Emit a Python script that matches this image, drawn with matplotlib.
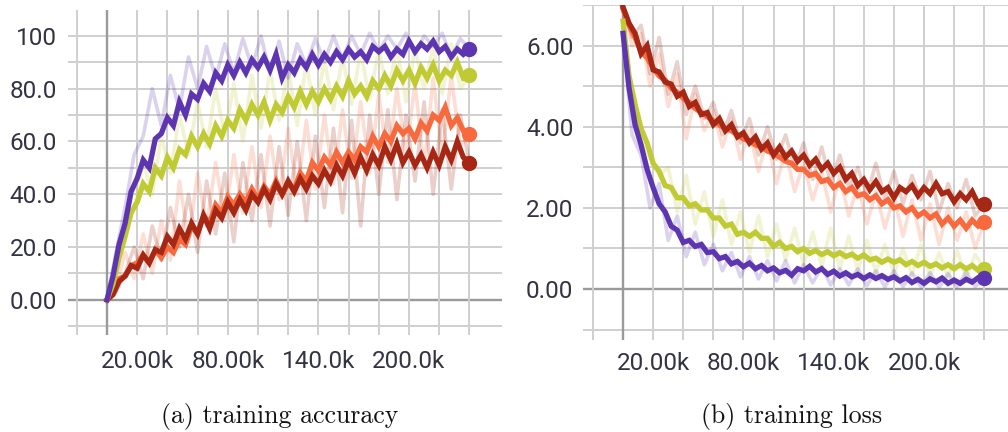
import matplotlib
matplotlib.use("Agg")
import matplotlib.pyplot as plt
import numpy as np

# ---------------- data (steps in thousands) ----------------
steps = list(range(0, 241, 4))        # smoothed curves
raw_steps = list(range(0, 241, 6))    # faint raw curves

acc_purple = [0, 9, 21, 29, 41, 46, 53, 50, 61, 63, 69, 66, 75, 70, 78, 76, 82, 79, 86, 83, 89, 85, 90, 86, 91,
              88, 92, 87, 93, 84, 89, 86, 91, 88, 93, 89, 93, 90, 94, 91, 95, 92, 94, 91, 96, 94, 96, 92, 95, 93,
              98, 94, 97, 95, 98, 94, 96, 92, 95, 93, 95]
acc_lime = [0, 6, 16, 24, 33, 37, 44, 41, 50, 47, 54, 50, 57, 55, 62, 58, 63, 59, 66, 62, 68, 65, 72, 68, 74,
            70, 75, 68, 74, 71, 77, 73, 79, 74, 79, 75, 80, 76, 81, 77, 83, 78, 81, 77, 83, 80, 85, 81, 87, 83,
            87, 82, 88, 84, 89, 83, 87, 85, 90, 84, 85]
acc_orange = [0, 3, 8, 9, 13, 14, 17, 14, 19, 16, 20, 18, 23, 21, 28, 25, 32, 29, 36, 33, 39, 36, 40, 37, 42,
              38, 43, 40, 45, 40, 44, 42, 48, 45, 52, 49, 54, 51, 56, 52, 56, 53, 58, 56, 62, 58, 63, 60, 66, 63,
              65, 61, 67, 64, 70, 68, 73, 66, 69, 64, 63]
acc_red = [0, 2, 7, 9, 13, 12, 17, 14, 19, 18, 24, 21, 27, 23, 29, 25, 32, 27, 34, 31, 37, 33, 38, 34, 40,
           37, 42, 38, 44, 40, 45, 41, 46, 42, 47, 44, 49, 45, 51, 47, 53, 48, 54, 49, 55, 51, 58, 53, 59, 52,
           56, 51, 55, 50, 56, 51, 58, 53, 60, 54, 52]

acc_purple_raw = [0, 18, 35, 55, 62, 80, 66, 85, 72, 92, 80, 96, 84, 97, 86, 99, 88, 100, 86, 98, 84, 97, 89,
                  99, 90, 100, 91, 100, 93, 101, 94, 100, 95, 101, 93, 100, 96, 101, 92, 99, 95]
acc_lime_raw = [0, 12, 30, 35, 52, 40, 62, 48, 70, 55, 75, 58, 80, 62, 82, 60, 85, 65, 87, 68, 88, 66, 90, 70,
                91, 72, 92, 74, 94, 76, 95, 78, 96, 75, 95, 80, 96, 78, 97, 80, 85]
acc_orange_raw = [0, 5, 18, 8, 25, 10, 30, 15, 45, 22, 48, 28, 52, 30, 55, 33, 58, 35, 62, 38, 65, 40, 68, 42,
                  70, 44, 72, 46, 75, 48, 78, 52, 80, 55, 82, 50, 84, 55, 85, 58, 63]
acc_red_raw = [0, 3, 10, 20, 8, 28, 15, 35, 20, 40, 18, 45, 25, 48, 22, 52, 30, 55, 28, 58, 32, 60, 30, 62, 35,
               65, 33, 68, 28, 70, 40, 72, 38, 70, 45, 75, 40, 72, 42, 70, 52]

loss_red = [6.95, 6.55, 6.3, 5.8, 6.0, 5.4, 5.35, 5.1, 5.05, 4.75, 4.85, 4.5, 4.6, 4.3, 4.35, 4.05, 4.2, 3.9,
            4.05, 3.75, 3.85, 3.6, 3.75, 3.45, 3.6, 3.3, 3.5, 3.25, 3.4, 3.15, 3.3, 3.05, 3.2, 2.95, 3.1, 2.85,
            3.0, 2.7, 2.85, 2.55, 2.7, 2.45, 2.65, 2.4, 2.5, 2.25, 2.5, 2.4, 2.55, 2.3, 2.5, 2.35, 2.6, 2.35,
            2.4, 2.15, 2.35, 2.2, 2.4, 2.1, 2.1]
loss_orange = [6.9, 6.5, 6.2, 5.85, 5.7, 5.45, 5.25, 5.15, 4.95, 4.85, 4.7, 4.6, 4.45, 4.35, 4.25, 4.15, 4.05,
               3.95, 3.9, 3.8, 3.7, 3.65, 3.55, 3.5, 3.4, 3.35, 3.25, 3.15, 3.1, 2.95, 2.95, 2.8, 2.85, 2.65,
               2.7, 2.5, 2.6, 2.4, 2.5, 2.3, 2.35, 2.2, 2.3, 2.1, 2.2, 2.0, 2.05, 1.9, 2.0, 1.8, 1.9, 1.75, 1.85,
               1.6, 1.75, 1.55, 1.7, 1.5, 1.7, 1.55, 1.65]
loss_lime = [6.6, 5.25, 4.55, 3.95, 3.6, 3.1, 2.9, 2.55, 2.5, 2.25, 2.25, 2.05, 2.1, 1.95, 1.95, 1.75, 1.75,
             1.55, 1.6, 1.35, 1.4, 1.3, 1.4, 1.25, 1.25, 1.05, 1.15, 1.0, 1.05, 0.92, 1.0, 0.88, 0.95, 0.85,
             0.92, 0.82, 0.9, 0.8, 0.86, 0.76, 0.84, 0.72, 0.76, 0.66, 0.74, 0.66, 0.72, 0.6, 0.68, 0.58, 0.66,
             0.56, 0.62, 0.52, 0.6, 0.5, 0.6, 0.5, 0.58, 0.46, 0.5]
loss_purple = [6.3, 4.95, 4.05, 3.55, 2.95, 2.5, 2.1, 1.9, 1.55, 1.45, 1.15, 1.2, 1.05, 1.1, 0.9, 0.92, 0.75,
               0.8, 0.62, 0.68, 0.55, 0.64, 0.5, 0.58, 0.45, 0.52, 0.4, 0.46, 0.34, 0.5, 0.45, 0.56, 0.42, 0.5,
               0.36, 0.44, 0.32, 0.4, 0.3, 0.36, 0.26, 0.35, 0.26, 0.33, 0.24, 0.3, 0.2, 0.28, 0.16, 0.24, 0.14,
               0.25, 0.18, 0.27, 0.14, 0.22, 0.14, 0.24, 0.17, 0.28, 0.27]

loss_red_raw = [7.0, 6.2, 6.5, 5.3, 6.2, 4.8, 5.6, 4.3, 5.0, 4.2, 4.6, 3.8, 4.4, 3.6, 4.2, 3.3, 4.0, 3.2, 3.8,
                3.0, 3.6, 2.7, 3.5, 2.6, 3.3, 2.5, 3.0, 2.3, 3.1, 2.2, 2.9, 2.1, 2.8, 2.2, 2.9, 1.9, 2.6, 2.0,
                2.7, 1.8, 2.1]
loss_orange_raw = [6.9, 6.0, 6.3, 5.0, 5.8, 4.5, 5.3, 3.7, 4.8, 3.9, 4.4, 3.5, 4.2, 3.2, 3.9, 2.9, 3.7, 2.6,
                   3.4, 2.4, 3.1, 2.2, 2.9, 1.9, 2.8, 1.8, 2.6, 1.6, 2.4, 1.5, 2.3, 1.3, 2.2, 1.2, 2.1, 1.1, 2.0,
                   1.2, 1.9, 1.0, 1.65]
loss_lime_raw = [6.6, 4.2, 3.8, 3.2, 2.8, 3.0, 1.9, 2.8, 1.6, 2.4, 1.3, 2.2, 1.1, 1.9, 0.9, 1.8, 0.8, 1.6, 0.7,
                 1.5, 0.6, 1.4, 0.55, 1.5, 0.5, 1.3, 0.45, 1.2, 0.4, 1.1, 0.38, 1.0, 0.35, 1.1, 0.3, 0.9, 0.3,
                 0.95, 0.28, 0.85, 0.5]
loss_purple_raw = [6.3, 3.8, 3.3, 2.0, 2.6, 1.2, 1.8, 0.8, 1.4, 0.6, 1.1, 0.45, 0.9, 0.3, 0.8, 0.25, 0.7, 0.2,
                   0.7, 0.15, 0.6, 0.15, 0.55, 0.1, 0.5, 0.1, 0.5, 0.08, 0.45, 0.05, 0.45, 0.06, 0.4, 0.05, 0.4,
                   0.04, 0.38, 0.05, 0.42, 0.06, 0.27]

x_tick_vals = [20, 80, 140, 200]
x_tick_labels = ["20.00k", "80.00k", "140.0k", "200.0k"]
acc_ticks = [0, 20, 40, 60, 80, 100]
acc_tick_labels = ["0.00", "20.0", "40.0", "60.0", "80.0", "100"]
loss_ticks = [0, 2, 4, 6]
loss_tick_labels = ["0.00", "2.00", "4.00", "6.00"]
captions = ["(a) training accuracy", "(b) training loss"]

C_PURPLE = "#5e35b1"
C_LIME = "#c0ca33"
C_ORANGE = "#f86a3e"
C_RED = "#a52714"
TXT = "#333344"

W, H = 1008, 432
fig = plt.figure(figsize=(W / 100, H / 100), dpi=100)


def px_axes(x0, x1, y0, y1):
    return fig.add_axes([x0 / W, 1 - y1 / H, (x1 - x0) / W, (y1 - y0) / H])


def style(ax, xlim, ylim, hgrid, vgrid):
    ax.set_xlim(*xlim)
    ax.set_ylim(*ylim)
    for s in ax.spines.values():
        s.set_visible(False)
    for v in hgrid:
        ax.axhline(v, color="#9a9a9a" if v == 0 else "#cfcfcf",
                   lw=1.7 if v == 0 else 1.4, zorder=0)
    for v in vgrid:
        ax.axvline(v, color="#9a9a9a" if v == 0 else "#cfcfcf",
                   lw=1.7 if v == 0 else 1.4, zorder=0)
    ax.tick_params(length=0, labelsize=17.5, labelcolor=TXT)
    for lab in ax.get_xticklabels() + ax.get_yticklabels():
        lab.set_fontfamily("Roboto")


def draw(ax, xs, ys, rxs, rys, color, lw=3.8):
    ax.plot(rxs, rys, color=color, lw=2.6, alpha=0.22, zorder=1)
    ax.plot(xs, ys, color=color, lw=lw, zorder=2, solid_joinstyle="miter")
    ax.plot([xs[-1]], [ys[-1]], "o", color=color, ms=10, zorder=3)


# ---------------- left: accuracy ----------------
axL = px_axes(68, 502, 10, 335)
axL.set_yticks(acc_ticks, acc_tick_labels)
axL.set_xticks(x_tick_vals, x_tick_labels)
style(axL, (-25.8, 261.6), (-13.3, 109.8),
      list(range(-10, 111, 10)), list(range(-20, 241, 20)))
draw(axL, steps, acc_orange, raw_steps, acc_orange_raw, C_ORANGE)
draw(axL, steps, acc_red, raw_steps, acc_red_raw, C_RED)
draw(axL, steps, acc_lime, raw_steps, acc_lime_raw, C_LIME)
draw(axL, steps, acc_purple, raw_steps, acc_purple_raw, C_PURPLE)
axL.tick_params(axis="y", pad=8)
axL.tick_params(axis="x", pad=11)

# ---------------- right: loss ----------------
axR = px_axes(583, 1008, 5, 340)
axR.set_yticks(loss_ticks, loss_tick_labels)
axR.set_xticks(x_tick_vals, x_tick_labels)
style(axR, (-26.6, 255.8), (-1.256, 7.0),
      list(range(-1, 8)), list(range(-20, 241, 20)))
draw(axR, steps, loss_orange, raw_steps, loss_orange_raw, C_ORANGE)
draw(axR, steps, loss_red, raw_steps, loss_red_raw, C_RED)
draw(axR, steps, loss_lime, raw_steps, loss_lime_raw, C_LIME)
draw(axR, steps, loss_purple, raw_steps, loss_purple_raw, C_PURPLE)
axR.tick_params(axis="y", pad=7)
axR.tick_params(axis="x", pad=9)

# ---------------- captions ----------------
fig.text(280 / W, 1 - 416 / H, captions[0], ha="center", va="center",
         fontfamily="cmr10", fontsize=18.6, color="#111111")
fig.text(792 / W, 1 - 416 / H, captions[1], ha="center", va="center",
         fontfamily="cmr10", fontsize=18.6, color="#111111")

fig.savefig("out.png", dpi=100)
